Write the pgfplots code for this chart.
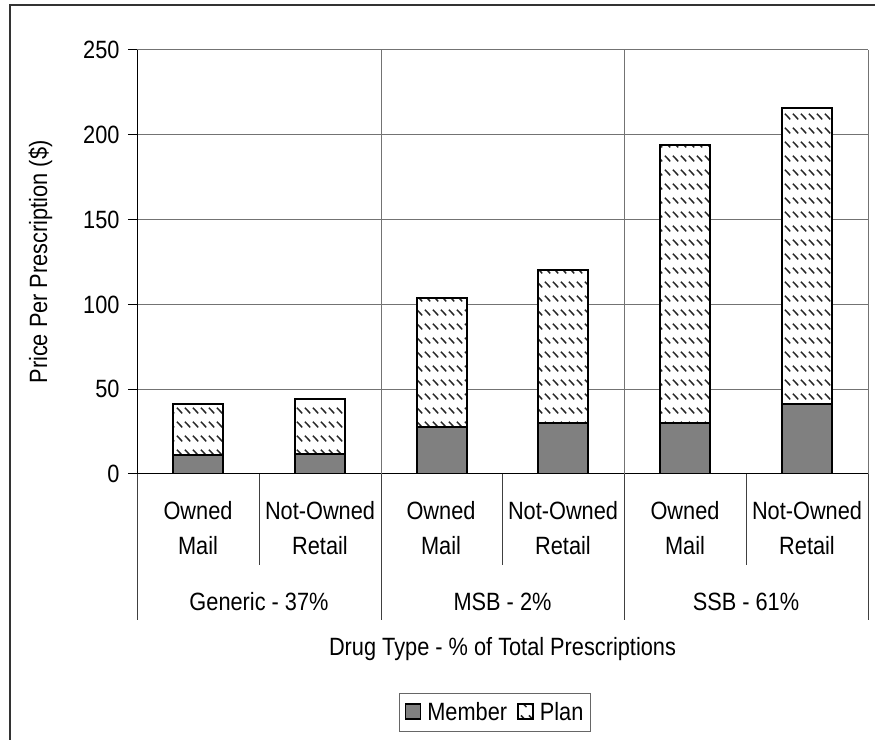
\documentclass[border=0pt]{standalone}
\usepackage{pgfplots}
\usepackage{pgfplotstable}
\pgfplotsset{compat=1.18}
\usepackage{fontspec}
\setmainfont{Liberation Sans}[FakeStretch=0.87]
\usetikzlibrary{patterns.meta}
\pgfdeclarepattern{
  name=dashdiag,
  type=uncolored,
  bottom left={\pgfpoint{0bp}{0bp}},
  top right={\pgfpoint{8bp}{14bp}},
  tile size={\pgfpoint{8bp}{14bp}},
  code={
    \pgfsetlinewidth{1.6bp}
    \pgfpathmoveto{\pgfpoint{1bp}{11bp}}
    \pgfpathlineto{\pgfpoint{7bp}{5bp}}
    \pgfusepath{stroke}
  }
}
\definecolor{membergray}{HTML}{808080}
\pgfplotstableread{
x member plan
0 11 30
1 12 32
2 28 76
3 30 90
4 30 164
5 41 175
}\datatable
\newcommand{\F}{\fontsize{25bp}{30bp}\selectfont}
\begin{document}
\begin{tikzpicture}
\useasboundingbox (0bp,0bp) rectangle (875bp,740bp);
% outer frame
\draw[black!80, line width=2bp] (10bp,0bp) -- (10bp,735bp) -- (876bp,735bp);
\begin{axis}[
  at={(137bp,266bp)}, anchor=south west,
  scale only axis, width=731bp, height=424bp,
  ybar stacked, bar width=50bp,
  xmin=-0.5, xmax=5.5, ymin=0, ymax=250,
  ytick={0,50,...,250},
  xtick=\empty,
  axis x line*=bottom, axis y line*=left,
  axis line style={black, line width=1bp, -},
  ymajorgrids, grid style={black!55, line width=1bp},
  tick align=outside, major tick length=9bp,
  ytick style={black, line width=1bp},
  yticklabel style={font=\F, xshift=-5bp},
  /pgf/number format/assume math mode=true,
  legend columns=2,
  legend style={at={(0.4897,-0.5165)}, anchor=north, draw=black!60, line width=1bp,
    font=\F, inner xsep=5bp, inner ysep=7bp, row sep=0bp,
    /tikz/every odd column/.append style={column sep=4bp},
    /tikz/every even column/.append style={column sep=8bp}},
  legend image code/.code={\draw[#1, line width=1.8bp] (0bp,-7bp) rectangle (15bp,8bp);},
]
\addplot[fill=membergray, draw=black, line width=2bp] table[x=x, y=member] {\datatable};
\addlegendentry{Member}
\addplot[fill=white, draw=black, line width=2bp, postaction={pattern=dashdiag, pattern color=black!85}] table[x=x, y=plan] {\datatable};
\addlegendentry{Plan}
\end{axis}
% vertical gridlines at group boundaries inside plot
\foreach \xx in {381,624,868} {
  \draw[black!55, line width=1bp] (\xx bp,266bp) -- (\xx bp,690bp);
}
% category separators below axis
\foreach \xx in {137,381,624,868} {
  \draw[black!75, line width=1bp] (\xx bp,266bp) -- (\xx bp,120bp);
}
\foreach \xx in {259,502,746} {
  \draw[black!75, line width=1bp] (\xx bp,266bp) -- (\xx bp,175bp);
}
% sub-category labels
\foreach \xx/\a/\b in {198/Owned/Mail,320/Not-Owned/Retail,441/Owned/Mail,563/Not-Owned/Retail,685/Owned/Mail,807/Not-Owned/Retail} {
  \node[anchor=base, inner sep=0pt, font=\F] at (\xx bp,220bp) {\a};
  \node[anchor=base, inner sep=0pt, font=\F] at (\xx bp,185bp) {\b};
}
% group labels
\node[anchor=base, inner sep=0pt, font=\F] at (259bp,129bp) {Generic - 37\%};
\node[anchor=base, inner sep=0pt, font=\F] at (502.5bp,129bp) {MSB - 2\%};
\node[anchor=base, inner sep=0pt, font=\F] at (746bp,129bp) {SSB - 61\%};
% axis titles
\node[anchor=base, inner sep=0pt, font=\F] at (502.5bp,84bp) {Drug Type - \% of Total Prescriptions};
\node[anchor=base, inner sep=0pt, font=\F, rotate=90] at (47bp,478bp) {Price Per Prescription (\$)};
\end{tikzpicture}
\end{document}
